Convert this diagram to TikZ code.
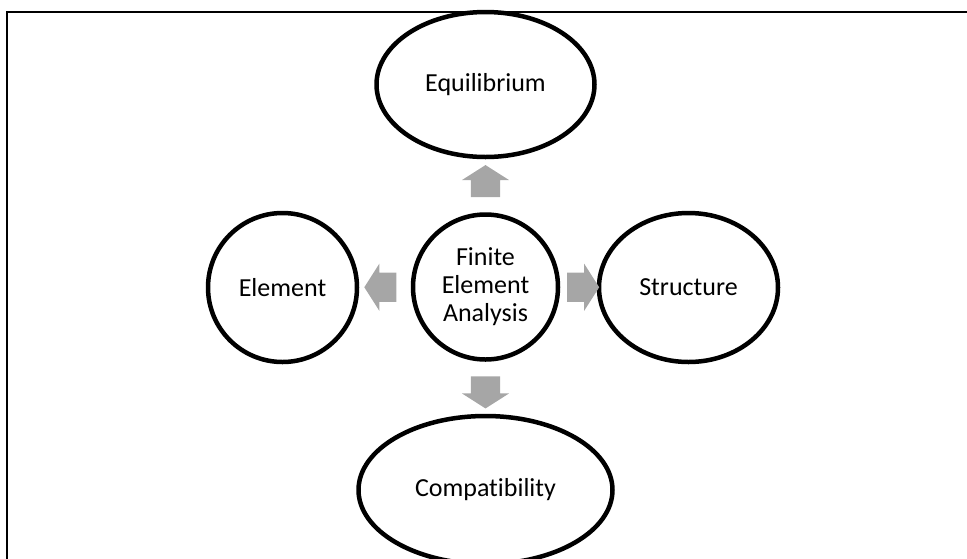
\documentclass[tikz,border=0pt]{standalone}
\usepackage{fontspec}
\setmainfont[Ligatures=NoCommon]{Carlito}
\usetikzlibrary{shapes.geometric,shapes.arrows,calc}
\definecolor{arrowgray}{RGB}{166,166,166}

\begin{document}
\begin{tikzpicture}[x=1pt, y=-1pt,
    bubble/.style={ellipse, draw=black, line width=4.5pt, fill=white, inner sep=0pt,
        font=\fontsize{26}{28}\selectfont, align=center},
    blockarrow/.style={single arrow, fill=arrowgray, draw=none, inner xsep=0pt,
        inner ysep=14.5pt, minimum height=32pt, single arrow head extend=9pt,
        single arrow tip angle=115}]
% page and frame
    \clip (0,0) rectangle (967,558);
    \draw[line width=1.6pt] (7,600) -- (7,12) -- (1000,12);
% bubbles
    \node[bubble, minimum width=145pt, minimum height=145pt] (fea) at (485.5,287) {Finite\\Element\\Analysis};
    \node[bubble, minimum width=218pt, minimum height=145pt] (equil) at (485.5,84.5) {Equilibrium};
    \node[bubble, minimum width=149pt, minimum height=149pt] (elem) at (282.5,287.5) {Element};
    \node[bubble, minimum width=179pt, minimum height=149pt] (struct) at (688.5,287.5) {Structure};
    \node[bubble, minimum width=254pt, minimum height=148pt] (compat) at (485.5,490) {Compatibility};
% block arrows
    \node[blockarrow, rotate=90] (toequil) at ($(fea.north)!0.5!(equil.south)$) {};
    \node[blockarrow, rotate=270] (tocompat) at ($(fea.south)!0.5!(compat.north)$) {};
    \node[blockarrow, rotate=180] (toelem) at ($(fea.west)!0.5!(elem.east)$) {};
    \node[blockarrow] (tostruct) at ($(fea.east)!0.5!(struct.west)$) {};
\end{tikzpicture}
\end{document}
